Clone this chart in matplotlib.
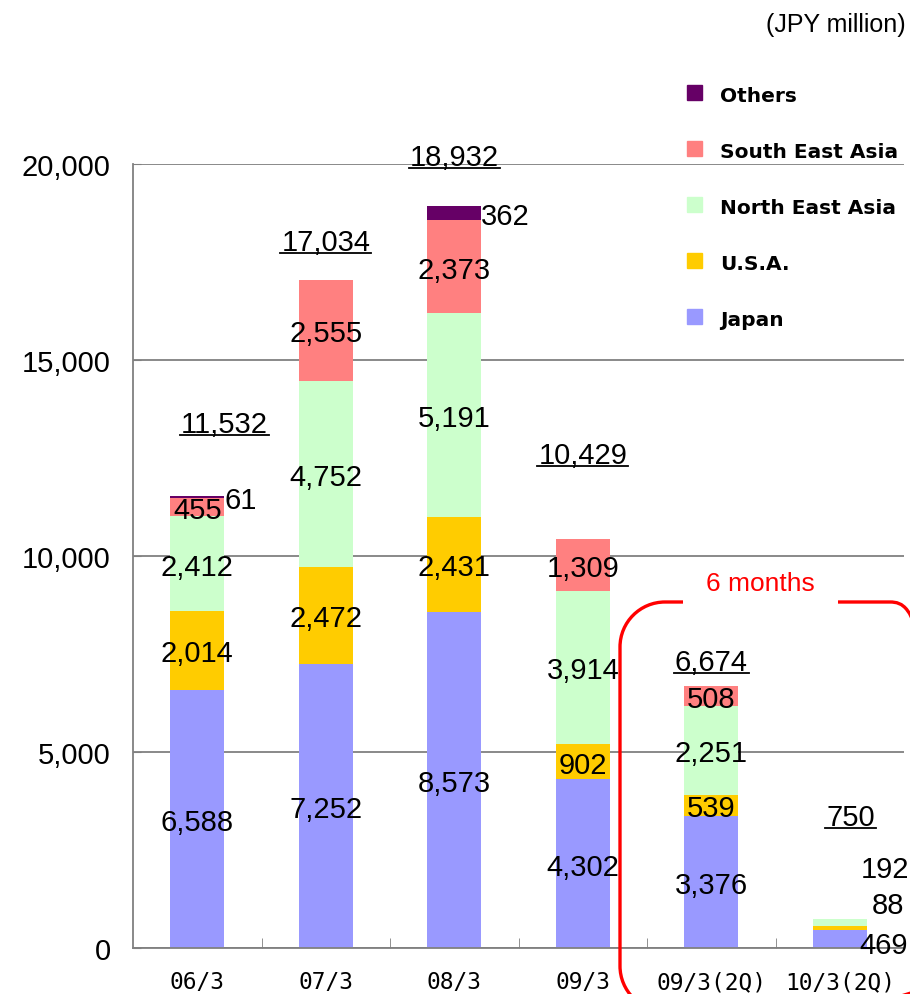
import matplotlib
matplotlib.use("Agg")
import matplotlib.pyplot as plt
from matplotlib.patches import Rectangle, PathPatch
from matplotlib.path import Path
from matplotlib.lines import Line2D

# sales by region (JPY million)
periods = ["06/3", "07/3", "08/3", "09/3", "09/3(2Q)", "10/3(2Q)"]
japan = [6588, 7252, 8573, 4302, 3376, 469]
usa = [2014, 2472, 2431, 902, 539, 88]
ne_asia = [2412, 4752, 5191, 3914, 2251, 192]
se_asia = [455, 2555, 2373, 1309, 508, 0]
others = [61, 0, 362, 0, 0, 0]
totals = [11532, 17034, 18932, 10429, 6674, 750]

series = [
    ("Japan", japan, "#9999FF"),
    ("U.S.A.", usa, "#FFCC00"),
    ("North East Asia", ne_asia, "#CCFFCC"),
    ("South East Asia", se_asia, "#FF8080"),
    ("Others", others, "#660066"),
]

# where the total labels sit (data y) and their sideways shift
total_label_y = [13444, 18087, 20255, 12653, 7372, 3418]
total_label_dx = [0.21, 0, 0, 0, 0, 0.085]

# labels that are not centred in their segment: (x, y, ha)
label_spots = {
    ("Others", 0): (0.21, None, "left"),
    ("Others", 2): (2.21, None, "left"),
    ("Japan", 5): (5.15, 153, "left"),
    ("U.S.A.", 5): (5.25, 1173, "left"),
    ("North East Asia", 5): (5.16, 2090, "left"),
}

W, H = 910, 995
fig = plt.figure(figsize=(W / 100, H / 100), dpi=100)
FONT = "Liberation Sans"
plt.rcParams["font.family"] = FONT


def px(x, y):
    return x / W, 1 - y / H


ax = fig.add_axes([133 / W, 1 - 949 / H, (904 - 133) / W, (949 - 165) / H])
x = list(range(len(periods)))
bar_w = 0.42
bottom = [0] * len(periods)
for name, vals, color in series:
    ax.bar(x, vals, bar_w, bottom=bottom, color=color, zorder=2)
    for i, v in enumerate(vals):
        if v == 0:
            continue
        xi, yi, ha = i, bottom[i] + v / 2, "center"
        if (name, i) in label_spots:
            sx, sy, ha = label_spots[(name, i)]
            xi = sx
            if sy is not None:
                yi = sy
        ax.text(xi, yi, f"{v:,}", ha=ha, va="center_baseline", fontsize=21,
                zorder=4, clip_on=False)
    bottom = [b + v for b, v in zip(bottom, vals)]

total_texts = []
for i, t in enumerate(totals):
    tt = ax.text(i + total_label_dx[i], total_label_y[i], f"{t:,}",
                 ha="center", va="center_baseline", fontsize=21, zorder=4)
    total_texts.append(tt)

ax.set_xlim(-0.5, len(periods) - 0.5)
ax.set_ylim(0, 20000)
ax.set_yticks([0, 5000, 10000, 15000, 20000])
ax.set_yticklabels([f"{v:,}" for v in [0, 5000, 10000, 15000, 20000]],
                   fontsize=21)
ax.yaxis.grid(True, color="#808080", linewidth=1.3, zorder=1)
ax.set_axisbelow(True)
ax.tick_params(axis="y", direction="in", length=6, color="#808080", pad=16)

ax.set_xticks(x)
ax.set_xticklabels(periods, fontsize=16.5, family="DejaVu Sans Mono")
ax.set_xticks([i + 0.5 for i in x[:-1]], minor=True)
ax.tick_params(axis="x", which="major", length=0, pad=16)
ax.tick_params(axis="x", which="minor", direction="in", length=7,
               color="#808080")

for s in ["top", "right"]:
    ax.spines[s].set_visible(False)
for s in ["left", "bottom"]:
    ax.spines[s].set_color("#808080")
    ax.spines[s].set_linewidth(1.3)

# unit note
fig.text(*px(906, 25), "(JPY million)", ha="right", va="center", fontsize=18)

# legend, top item first
leg_y = 93
for name, vals, color in reversed(series):
    lx, ly = px(687, leg_y + 7.5)
    fig.add_artist(Rectangle((lx, ly), 15 / W, 15 / H, color=color,
                             transform=fig.transFigure))
    fig.text(*px(720, leg_y + 3), name, ha="left", va="center",
             fontsize=14.5, fontweight="bold", family="DejaVu Sans")
    leg_y += 56

# red rounded box around the half-year figures
L, T, R, B, r = 620, 603, 935, 1012, 45
k = 0.5523
pts = [
    (683, T), (L + r, T),
    (L + r - k * r, T), (L, T + r - k * r), (L, T + r),
    (L, B - r),
    (L, B - r + k * r), (L + r - k * r, B), (L + r, B),
    (R - r, B),
    (R - r + k * r, B), (R, B - r + k * r), (R, B - r),
    (R, T + r),
    (R, T + r - k * r), (R - r + k * r, T), (R - r, T),
    (838, T),
]
codes = [Path.MOVETO, Path.LINETO,
         Path.CURVE4, Path.CURVE4, Path.CURVE4,
         Path.LINETO,
         Path.CURVE4, Path.CURVE4, Path.CURVE4,
         Path.LINETO,
         Path.CURVE4, Path.CURVE4, Path.CURVE4,
         Path.LINETO,
         Path.CURVE4, Path.CURVE4, Path.CURVE4,
         Path.LINETO]
box = Path([px(a, b) for a, b in pts], codes)
fig.add_artist(PathPatch(box, fill=False, edgecolor="#FF0000", linewidth=2.4,
                         transform=fig.transFigure, clip_on=False))
fig.text(*px(760, 584), "6 months", ha="center", va="center",
         fontsize=19, color="#FF0000")

# underline the totals
fig.canvas.draw()
renderer = fig.canvas.get_renderer()
for tt in total_texts:
    bb = tt.get_window_extent(renderer)
    y0 = (bb.y0 + 3) / fig.bbox.height
    fig.add_artist(Line2D([(bb.x0 - 1) / fig.bbox.width, (bb.x1 + 1) / fig.bbox.width],
                          [y0, y0], color="black", linewidth=1.3,
                          transform=fig.transFigure))

fig.savefig("out.png", dpi=100)
